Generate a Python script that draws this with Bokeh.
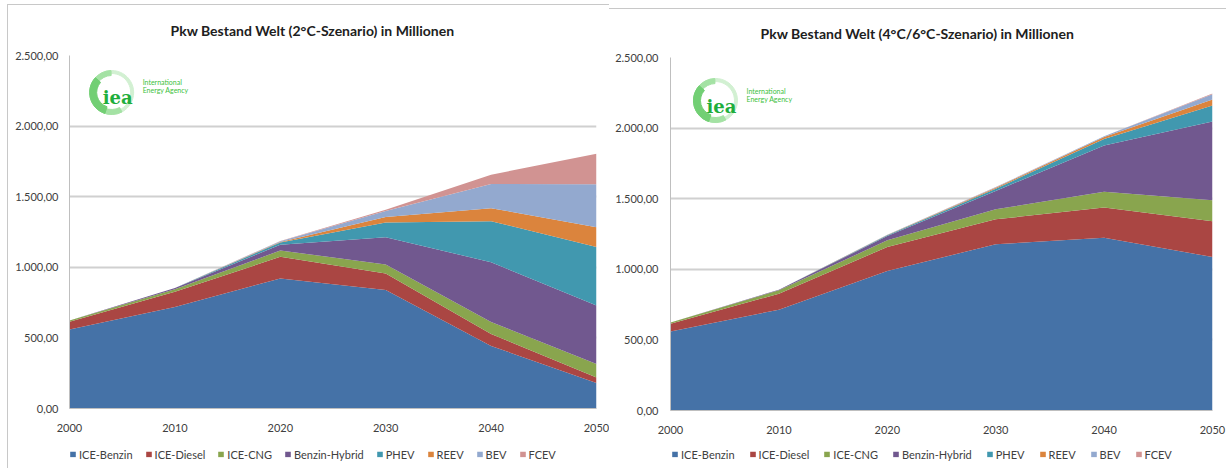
from bokeh.plotting import figure
from bokeh.layouts import row, column
from bokeh.models import ColumnDataSource, FixedTicker, Label, Spacer, Legend, LegendItem
from bokeh.embed import file_html
from bokeh.resources import INLINE

years = [2000, 2010, 2020, 2030, 2040, 2050]
series = ["ICE-Benzin", "ICE-Diesel", "ICE-CNG", "Benzin-Hybrid", "PHEV", "REEV", "BEV", "FCEV"]
colors = ["#4572A7", "#AA4643", "#89A54E", "#71588F", "#4198AF", "#DB843D", "#93A9CF", "#D19392"]

# 2°C-Szenario (Millionen Pkw)
s2_benzin = [560, 718, 921, 840, 443, 180]
s2_diesel = [54, 108, 153, 116, 84, 40]
s2_cng = [9, 19, 45, 64, 85, 95]
s2_hybrid = [0, 9, 40, 193, 424, 415]
s2_phev = [0, 0, 17, 104, 291, 413]
s2_reev = [0, 0, 4, 40, 92, 140]
s2_bev = [0, 0, 5, 41, 171, 305]
s2_fcev = [0, 0, 2, 9, 66, 217]

# 4°C/6°C-Szenario (Millionen Pkw)
s4_benzin = [560, 714, 988, 1177, 1224, 1087]
s4_diesel = [54, 113, 170, 177, 213, 253]
s4_cng = [10, 24, 47, 71, 113, 149]
s4_hybrid = [0, 4, 31, 130, 326, 557]
s4_phev = [0, 0, 5, 16, 47, 114]
s4_reev = [0, 0, 2, 7, 14, 42]
s4_bev = [0, 0, 1, 3, 5, 38]
s4_fcev = [0, 0, 1, 1, 1, 5]

y_ticks = [0, 500, 1000, 1500, 2000, 2500]
y_labels = ["0,00", "500,00", "1.000,00", "1.500,00", "2.000,00", "2.500,00"]
x_labels = ["2000", "2010", "2020", "2030", "2040", "2050"]

FONT = "Lato"
TXT = "#404040"
BORDER = "1px solid #c8c8c8"


def make_panel(title, title_offset, title_standoff, data, width, height,
               mb_left, mb_right, mb_top, mb_bottom, ylab_standoff,
               logo_xy, border_styles):
    src = ColumnDataSource(dict(year=years, **{n: v for n, v in zip(series, data)}))
    p = figure(width=width, height=height, x_range=(2000, 2050), y_range=(0, 2500),
               output_backend="svg", toolbar_location=None,
               min_border_left=mb_left, min_border_right=mb_right,
               min_border_top=mb_top, min_border_bottom=mb_bottom)
    p.styles = border_styles
    p.outline_line_color = None
    p.background_fill_color = "white"
    p.border_fill_color = "white"

    p.varea_stack(stackers=series, x="year", color=colors, source=src)

    # title
    p.title.text = title
    p.title.align = "left"
    p.title.vertical_align = "top"
    p.title.offset = title_offset
    p.title.standoff = title_standoff
    p.title.text_font = FONT
    p.title.text_font_size = "14px"
    p.title.text_font_style = "bold"
    p.title.text_color = "#202020"

    # axes
    p.xaxis.ticker = FixedTicker(ticks=years)
    p.xaxis.major_label_overrides = {y: l for y, l in zip(years, x_labels)}
    p.yaxis.ticker = FixedTicker(ticks=y_ticks)
    p.yaxis.major_label_overrides = {t: l for t, l in zip(y_ticks, y_labels)}
    for ax in (p.xaxis, p.yaxis):
        ax.axis_line_color = "#bfbfbf"
        ax.major_tick_line_color = None
        ax.minor_tick_line_color = None
        ax.major_label_text_font = FONT
        ax.major_label_text_font_size = "11px"
        ax.major_label_text_color = TXT
    p.xaxis.major_label_standoff = 9
    p.yaxis.major_label_standoff = ylab_standoff

    p.xgrid.grid_line_color = None
    p.ygrid.grid_line_color = "#d0d0d0"
    p.ygrid.grid_line_width = 2

    # IEA logo (decoration)
    lx, ly = logo_xy
    p.annular_wedge(x=[lx], y=[ly], inner_radius=19, outer_radius=22,
                    inner_radius_units="screen", outer_radius_units="screen",
                    start_angle=0, end_angle=6.283, color="#d2f0d2")
    p.annular_wedge(x=[lx], y=[ly], inner_radius=17, outer_radius=22,
                    inner_radius_units="screen", outer_radius_units="screen",
                    start_angle=1.6, end_angle=5.2, color="#a4e2a4")
    p.annular_wedge(x=[lx], y=[ly], inner_radius=15, outer_radius=22,
                    inner_radius_units="screen", outer_radius_units="screen",
                    start_angle=2.4, end_angle=4.4, color="#72cf74")
    p.add_layout(Label(x=lx, y=ly, x_offset=-9, y_offset=-16, text="iea",
                       text_font="DejaVu Serif", text_font_size="18px", text_font_style="bold",
                       text_color="#1fae3c"))
    p.add_layout(Label(x=lx, y=ly, x_offset=31, y_offset=6, text="International",
                       text_font=FONT, text_font_size="7px", text_color="#3cbf3c"))
    p.add_layout(Label(x=lx, y=ly, x_offset=31, y_offset=-2, text="Energy Agency",
                       text_font=FONT, text_font_size="7px", text_color="#3cbf3c"))
    return p, src


def make_legend(src, width, height, spacing):
    # small strip below the chart holding the series legend
    q = figure(width=width, height=height, x_range=(3000, 3001), y_range=(0, 1),
               x_axis_type=None, y_axis_type=None, output_backend="svg",
               toolbar_location=None, min_border=0, min_border_left=0,
               min_border_right=0, min_border_top=0, min_border_bottom=0)
    q.outline_line_color = None
    q.grid.visible = False
    rends = q.varea_stack(stackers=series, x="year", color=colors, source=src)
    lg = Legend(items=[LegendItem(label=n, renderers=[r]) for n, r in zip(series, rends)],
                orientation="horizontal", location="left",
                border_line_color=None, background_fill_alpha=0,
                padding=0, margin=0, spacing=spacing, glyph_width=7, glyph_height=7,
                label_standoff=3, label_text_font=FONT,
                label_text_font_size="11px", label_text_color=TXT)
    q.add_layout(lg, "center")
    return q


left, src_l = make_panel("Pkw Bestand Welt (2°C-Szenario) in Millionen", 101, 30,
                         [s2_benzin, s2_diesel, s2_cng, s2_hybrid, s2_phev, s2_reev, s2_bev, s2_fcev],
                         602, 435, 61, 14, 50, 32, 5, (2004.0, 2238),
                         {"border-top": BORDER, "border-left": BORDER})
right, src_r = make_panel("Pkw Bestand Welt (4°C/6°C-Szenario) in Millionen", 90, 28,
                          [s4_benzin, s4_diesel, s4_cng, s4_hybrid, s4_phev, s4_reev, s4_bev, s4_fcev],
                          617, 431, 61, 14, 48, 30, 6, (2004.15, 2195),
                          {"border-top": BORDER})
leg_l = make_legend(src_l, 540, 29, 12)
leg_r = make_legend(src_r, 555, 29, 14)

layout = row(Spacer(width=7, height=4),
             column(Spacer(width=10, height=4), left,
                    row(Spacer(width=62, height=29, styles={"border-left": BORDER}), leg_l)),
             column(Spacer(width=10, height=8), right,
                    row(Spacer(width=62, height=29), leg_r)))
open("out.html", "w").write(file_html(layout, INLINE))
